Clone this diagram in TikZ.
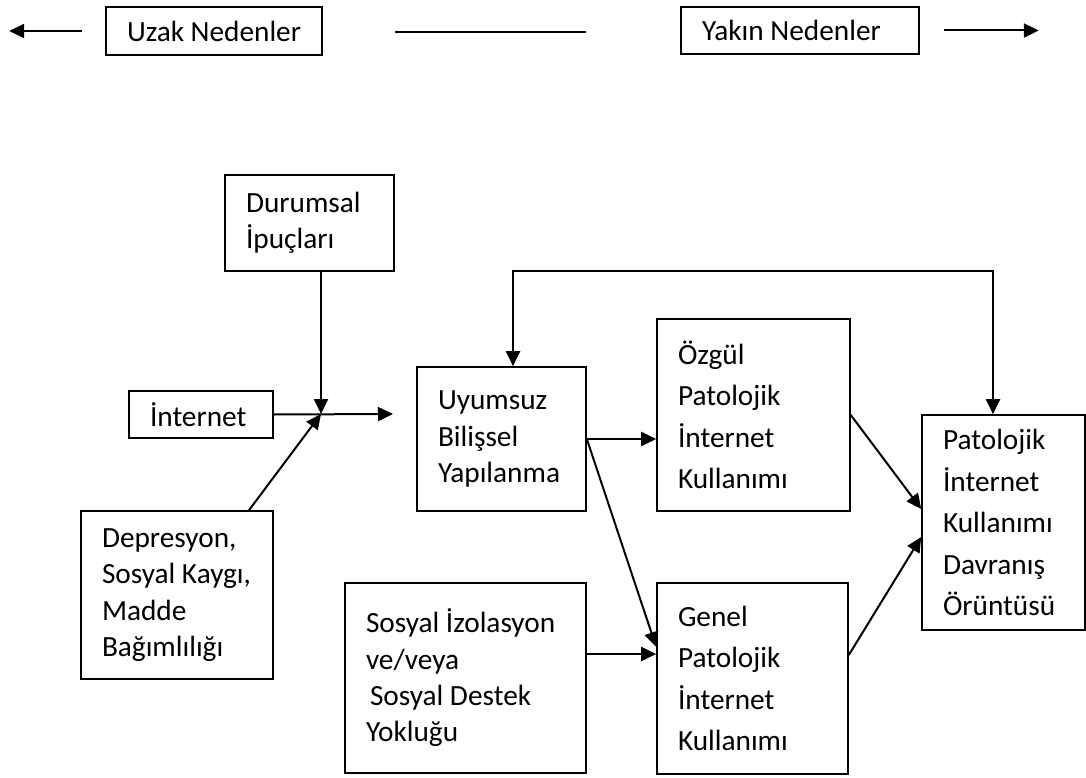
\documentclass[tikz,border=0pt]{standalone}
\usepackage{fontspec}
\setmainfont{Carlito}
\usepackage{tikz}
\usetikzlibrary{arrows.meta,positioning}
\tikzset{
  ar/.style={-{Triangle[length=15pt,width=14pt]},line width=2pt},
  arr/.style={{Triangle[length=15pt,width=14pt]}-{Triangle[length=15pt,width=14pt]},line width=2pt},
  ln/.style={line width=2pt},
  box/.style={draw,line width=1.6pt,align=flush left,inner xsep=21pt,inner ysep=0pt,font=\fontsize{29.3}{36.3}\selectfont},
  wbox/.style={box,font=\fontsize{29.3}{41.5}\selectfont}
}
\begin{document}
\begin{tikzpicture}[x=1pt,y=-1pt]
\useasboundingbox (0,0) rectangle (1086,778);
% top row
\node[box,text width=174pt,minimum height=48pt] (uzak) at (214,31) {Uzak~Nedenler};
\node[box,text width=196pt,minimum height=47pt] (yakin) at (800,30.5) {Yakın~Nedenler};
\coordinate[left=23pt of uzak] (l1);
\coordinate[left=73pt of l1] (lt);
\coordinate (m1) at (395,32);
\coordinate (m2) at (586,32);
\coordinate[right=24pt of yakin] (r1);
\coordinate[right=95pt of r1] (rt);
\draw[ar] (l1) -- (lt);
\draw[ln] (m1) -- (m2);
\draw[ar] (r1) -- (rt);

% left inputs
\node[box,text width=127pt,minimum height=96pt] (dur) at (309.5,223) {Durumsal\\İpuçları};
\node[box,text width=102pt,minimum height=47pt] (inet) at (201,414.5) {İnternet};
\node[box,text width=150pt,minimum height=168pt] (dep) at (177,595) {Depresyon,\\Sosyal~Kaygı,\\Madde\\Bağımlılığı};
\coordinate (jn) at (321,414);
\coordinate (gate) at (393,414);
\draw[ar] (dur.south -| jn) -- (jn);
\draw[ar] (inet.east) -- (gate);
\draw[ar] ([xshift=72pt]dep.north) -- (jn);

% middle and right
\node[box,text width=127pt,minimum height=144pt] (uyum) at (501.5,439) {Uyumsuz\\Bilişsel\\Yapılanma};
\node[box,text width=199pt,minimum height=190pt] (sosyal) at (465.5,678) {Sosyal~İzolasyon\\ve/veya\\\hspace*{4pt}Sosyal~Destek\\Yokluğu\par\vspace*{20pt}};
\node[wbox,text width=151pt,minimum height=192pt] (ozg) at (753.5,415) {Özgül\\Patolojik\\İnternet\\Kullanımı};
\node[wbox,text width=149pt,minimum height=191pt] (genel) at (752.5,678.5) {Genel\\Patolojik\\İnternet\\Kullanımı};
\node[wbox,text width=121pt,minimum height=215pt] (pat) at (1003.5,522.5) {Patolojik\\İnternet\\Kullanımı\\Davranış\\Örüntüsü};
\coordinate (fb) at (750,271);

\draw[arr] ([xshift=11.5pt]uyum.north) |- (fb) -| ([xshift=-10.5pt]pat.north);
\draw[ar] (uyum.east) -- (uyum.east -| ozg.west);
\draw[ar] (uyum.east) -- ([yshift=31.5pt]genel.west);
\draw[ar] ([yshift=24pt]sosyal.east) -- ([yshift=24pt]sosyal.east -| genel.west);
\draw[ar] (ozg.east) -- ([yshift=13.5pt]pat.west);
\draw[ar] ([yshift=23.5pt]genel.east) -- ([yshift=-14.5pt]pat.west);
\end{tikzpicture}
\end{document}
